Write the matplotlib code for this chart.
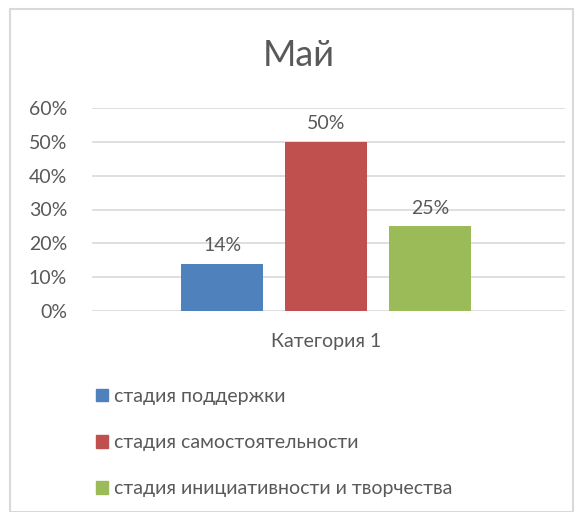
import matplotlib.pyplot as plt
from matplotlib.patches import Rectangle, Patch

title = "Май"
category = "Категория 1"
series = ["стадия поддержки", "стадия самостоятельности", "стадия инициативности и творчества"]
values = [0.14, 0.50, 0.25]
colors = ["#4F81BD", "#C0504D", "#9BBB59"]
yticks = [0, 0.1, 0.2, 0.3, 0.4, 0.5, 0.6]

text_color = "#595959"
plt.rcParams['font.family'] = ['Lato', 'DejaVu Sans']

fig = plt.figure(figsize=(5.81, 5.12), dpi=100)
fig.patches.append(Rectangle((10 / 581, 0), 563 / 581, 1 - 9 / 512, transform=fig.transFigure,
                             fill=False, edgecolor="#d9d9d9", linewidth=1.5))

ax = fig.add_axes([92 / 581, 1 - 311 / 512, 473 / 581, 203 / 512])
offsets = [-0.22, 0.0, 0.22]
for off, v, c in zip(offsets, values, colors):
    ax.bar(off, v, width=0.173, color=c, zorder=3)
    ax.text(off, v + 0.028, f"{v:.0%}", ha="center", va="bottom", fontsize=14, color=text_color)

ax.set_xlim(-0.495, 0.505)
ax.set_ylim(0, 0.6)
ax.set_yticks(yticks)
ax.set_yticklabels([f"{t:.0%}" for t in yticks], fontsize=14, color=text_color)
ax.set_xticks([0])
ax.set_xticklabels([category], fontsize=14, color=text_color)
ax.tick_params(length=0, axis="y", pad=18)
ax.tick_params(length=0, axis="x", pad=16)
ax.grid(axis="y", color="#d9d9d9", linewidth=1.2, zorder=0)
for s in ax.spines.values():
    s.set_visible(False)

fig.text(0.515, 1 - 55 / 512, title, ha="center", va="center", fontsize=26, color=text_color)

handles = [Patch(color=c) for c in colors]
leg = fig.legend(handles, series, loc="upper left", bbox_to_anchor=(96 / 581, 1 - 388 / 512),
                 frameon=False, fontsize=14, handlelength=0.62, handleheight=0.62,
                 handletextpad=0.3, labelspacing=1.5, borderpad=0, borderaxespad=0)
for t in leg.get_texts():
    t.set_color(text_color)

fig.savefig("out.png", dpi=100)
